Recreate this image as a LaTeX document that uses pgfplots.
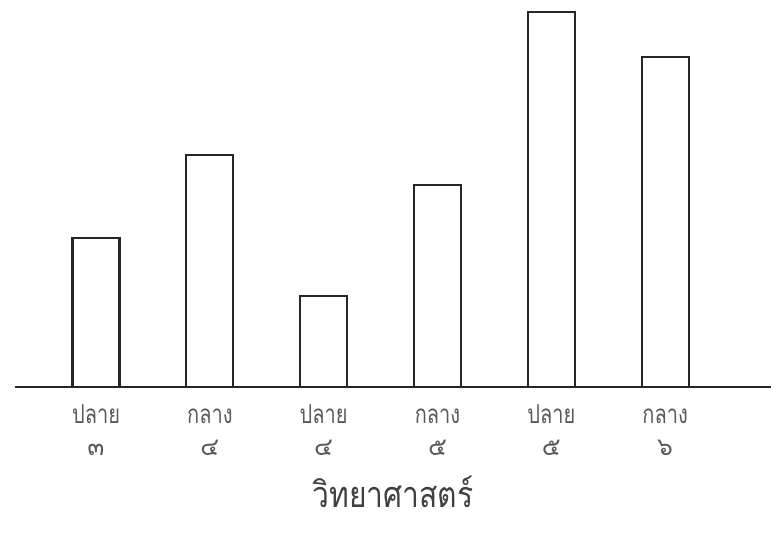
\documentclass[border=0pt]{standalone}
\usepackage{graphicx}
\usepackage{pgfplots}
\pgfplotsset{compat=1.18}
\usepackage{fontspec}
\newfontfamily\thaifont[Script=Thai]{Loma}
\newcommand{\lab}[2]{\scalebox{1}[1.3]{\vphantom{ปก}#1}\\[4pt]{\fontsize{25}{28}\selectfont #2}}
\begin{document}
\begin{tikzpicture}
\useasboundingbox (0,0) rectangle (771pt,540pt);
\begin{axis}[
  at={(15pt,153pt)}, anchor=south west,
  scale only axis,
  width=756pt, height=387pt,
  xmin=-0.712, xmax=5.93,
  ymin=0, ymax=387,
  axis x line=bottom,
  axis y line=none,
  axis line style={line width=2.4pt, black!85, -},
  xtick={0,1,2,3,4,5},
  xticklabels={{\lab{ปลาย}{๓}},{\lab{กลาง}{๔}},{\lab{ปลาย}{๔}},{\lab{กลาง}{๕}},{\lab{ปลาย}{๕}},{\lab{กลาง}{๖}}},
  xticklabel style={align=center, anchor=north, font=\thaifont\fontsize{20}{28}\selectfont, text=black!65, yshift=-14pt},
  major tick length=0pt,
  xlabel={\scalebox{1}[1.2]{วิทยาศาสตร์}},
  xlabel style={font=\thaifont\fontsize{30}{34}\selectfont, text=black!75, yshift=-14pt},
  ybar, bar width=47pt,
  clip=false,
]
\addplot[draw=black!85, fill=white, line width=2.2pt] coordinates {(0,149) (1,232) (2,91) (3,202) (4,375) (5,330)};
\end{axis}
\end{tikzpicture}
\end{document}
